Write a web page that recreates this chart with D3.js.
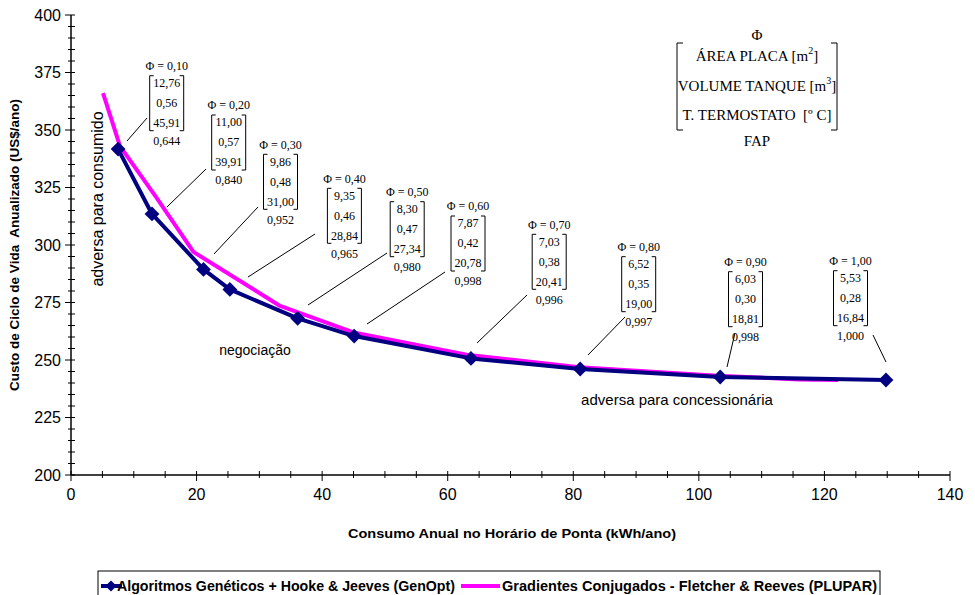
<!DOCTYPE html>
<html><head><meta charset="utf-8">
<script src="https://cdn.jsdelivr.net/npm/d3@7"></script>
<style>
body{margin:0;background:#fff;}
text{font-family:"Liberation Sans",Arial,sans-serif;}
.serif{font-family:"Liberation Serif","Times New Roman",serif;}
</style></head>
<body><svg id="c" width="975" height="595"></svg>
<script>
// ---- data ----
const genX = [7.5, 12.9, 21.1, 25.3, 36.1, 45.1, 63.7, 81.1, 103.4, 129.8];
const genY = [341.7, 313.5, 289.4, 280.7, 268.1, 260.4, 250.7, 246.1, 242.6, 241.3];
const pluX = [5.1, 7.8, 13.5, 19.5, 33.3, 45.0, 63.0, 81.0, 103.0, 116.0, 122.2];
const pluY = [366.0, 343.0, 321.0, 297.0, 273.5, 262.0, 252.3, 246.8, 243.2, 241.5, 241.3];
const phiLabels = ["0,10","0,20","0,30","0,40","0,50","0,60","0,70","0,80","0,90","1,00"];
const areaPlaca = ["12,76","11,00","9,86","9,35","8,30","7,87","7,03","6,52","6,03","5,53"];
const volTanque = ["0,56","0,57","0,48","0,46","0,47","0,42","0,38","0,35","0,30","0,28"];
const termostato = ["45,91","39,91","31,00","28,84","27,34","20,78","20,41","19,00","18,81","16,84"];
const fapValues = ["0,644","0,840","0,952","0,965","0,980","0,998","0,996","0,997","0,998","1,000"];
const xTicks = [0,20,40,60,80,100,120,140];
const yTicks = [200,225,250,275,300,325,350,375,400];
const seriesNames = ["Algoritmos Genéticos + Hooke & Jeeves (GenOpt)","Gradientes Conjugados - Fletcher & Reeves (PLUPAR)"];

// ---- annotation layout (pixels) ----
const boxPos = [[166.7,65.7],[228.7,105],[280.5,144.3],[344.4,178.3],[407.2,191.7],[468,206],[549.2,224.3],[638.7,246.7],[745.5,261.7],[850.5,260.7]];
const leaders = [[127,141,147,118],[167,207,206,169],[214,254,258,207],[248,277,315,234],[308,305,387,253],[367,324,445,272],[477,343,527,295],[588,355,625,317],[727,367,735,333],[873,335,886,362]];

const svg = d3.select("#c");
const L=71, R=950, T=15, B=475;
const x = d3.scaleLinear().domain([0,140]).range([L,R]);
const y = d3.scaleLinear().domain([200,400]).range([B,T]);

// y axis
const gy = svg.append("g").attr("transform",`translate(${L},0)`);
gy.append("line").attr("y1",T).attr("y2",B).attr("stroke","#000").attr("stroke-width",1.5);
d3.range(200,401,5).forEach(v=>{
  const major = v%25===0;
  gy.append("line").attr("x1",major?-6:-3).attr("x2",4).attr("y1",y(v)).attr("y2",y(v)).attr("stroke","#000").attr("stroke-width",1);
});
gy.selectAll("text.t").data(yTicks).join("text").attr("x",-10).attr("y",d=>y(d)).attr("dy","0.36em")
  .attr("text-anchor","end").attr("font-size",16).text(d=>d);

// x axis
const gx = svg.append("g").attr("transform",`translate(0,${B})`);
gx.append("line").attr("x1",L).attr("x2",R).attr("stroke","#000").attr("stroke-width",1.5);
d3.range(0,141,5).forEach(v=>{
  const major = v%20===0;
  gx.append("line").attr("x1",x(v)).attr("x2",x(v)).attr("y1",-4).attr("y2",major?6:3).attr("stroke","#000").attr("stroke-width",1);
});
gx.selectAll("text.t").data(xTicks).join("text").attr("x",d=>x(d)).attr("y",25)
  .attr("text-anchor","middle").attr("font-size",16).text(d=>d);

// axis titles
svg.append("text").attr("x",348).attr("y",538).attr("font-size",13).attr("font-weight","bold")
  .attr("textLength",328).attr("lengthAdjust","spacingAndGlyphs")
  .text("Consumo Anual no Horário de Ponta (kWh/ano)");
svg.append("text").attr("transform","translate(19,245) rotate(-90)").attr("text-anchor","middle").attr("font-size",13.5).attr("font-weight","bold")
  .attr("xml:space","preserve").text("Custo de Ciclo de Vida  Anualizado (US$/ano)");

// lines
const line = d3.line().x(d=>x(d[0])).y(d=>y(d[1]));
const genData = genX.map((v,i)=>[v,genY[i]]);
const pluData = pluX.map((v,i)=>[v,pluY[i]]);
svg.append("path").attr("d",line(pluData)).attr("fill","none").attr("stroke","#FF00FF").attr("stroke-width",4).attr("stroke-linejoin","round");
svg.append("path").attr("d",line(genData)).attr("fill","none").attr("stroke","#000080").attr("stroke-width",4).attr("stroke-linejoin","round");
const diamond = d3.symbol().type(d3.symbolDiamond2).size(140);
svg.selectAll("path.m").data(genData).join("path").attr("class","m")
  .attr("transform",d=>`translate(${x(d[0])},${y(d[1])})`).attr("d",diamond).attr("fill","#000080");

// region labels
svg.append("text").attr("transform","translate(103,199) rotate(-90)").attr("text-anchor","middle").attr("font-size",16).text("adversa para consumido");
svg.append("text").attr("x",255).attr("y",355).attr("text-anchor","middle").attr("font-size",14).text("negociação");
svg.append("text").attr("x",677).attr("y",405).attr("text-anchor","middle").attr("font-size",15).text("adversa para concessionária");

// annotations
function bracket(g, xl, xr, t, b, s){
  g.append("path").attr("d",`M${xl+s},${t}H${xl}V${b}H${xl+s}`).attr("fill","none").attr("stroke","#000").attr("stroke-width",1);
  g.append("path").attr("d",`M${xr-s},${t}H${xr}V${b}H${xr-s}`).attr("fill","none").attr("stroke","#000").attr("stroke-width",1);
}
phiLabels.forEach((p,i)=>{
  const [cx,cy] = boxPos[i];
  const g = svg.append("g");
  const tx = (yy,t)=>g.append("text").attr("class","serif").attr("x",cx).attr("y",yy).attr("dy","0.35em").attr("text-anchor","middle").attr("font-size",12).text(t);
  tx(cy,"Φ = "+p);
  bracket(g, cx-17, cx+17, cy+10, cy+65, 4);
  tx(cy+17, areaPlaca[i]);
  tx(cy+37, volTanque[i]);
  tx(cy+57, termostato[i]);
  tx(cy+75, fapValues[i]);
  const l = leaders[i];
  svg.append("line").attr("x1",l[0]).attr("y1",l[1]).attr("x2",l[2]).attr("y2",l[3]).attr("stroke","#000").attr("stroke-width",1);
});

// top-right key
const k = svg.append("g");
const kx = 757;
const kt = (yy)=>k.append("text").attr("class","serif").attr("x",kx).attr("y",yy).attr("dy","0.35em").attr("text-anchor","middle").attr("font-size",15);
kt(35).text("Φ");
const t1 = kt(56); t1.append("tspan").text("ÁREA PLACA [m"); t1.append("tspan").attr("font-size",10).attr("dy",-7).text("2"); t1.append("tspan").attr("dy",7).text("]");
const t2 = kt(86); t2.append("tspan").text("VOLUME TANQUE [m"); t2.append("tspan").attr("font-size",10).attr("dy",-7).text("3"); t2.append("tspan").attr("dy",7).text("]");
kt(115).attr("xml:space","preserve").text("T. TERMOSTATO  [º C]");
kt(141).text("FAP");
bracket(k, 677, 837, 43, 130, 6);

// legend
const lg = svg.append("g");
lg.append("rect").attr("x",98).attr("y",571).attr("width",782).attr("height",34).attr("fill","#fff").attr("stroke","#000").attr("stroke-width",1);
lg.append("line").attr("x1",101).attr("x2",122).attr("y1",586).attr("y2",586).attr("stroke","#000080").attr("stroke-width",4);
lg.append("path").attr("transform","translate(111,586)").attr("d",d3.symbol().type(d3.symbolDiamond2).size(80)).attr("fill","#000080");
lg.append("text").attr("x",117).attr("y",591).attr("font-size",14).attr("font-weight","bold")
  .attr("textLength",338).attr("lengthAdjust","spacingAndGlyphs").text(seriesNames[0]);
lg.append("line").attr("x1",461).attr("x2",500).attr("y1",586).attr("y2",586).attr("stroke","#FF00FF").attr("stroke-width",4);
lg.append("text").attr("x",502).attr("y",591).attr("font-size",14).attr("font-weight","bold")
  .attr("textLength",375).attr("lengthAdjust","spacingAndGlyphs").text(seriesNames[1]);
</script></body></html>
